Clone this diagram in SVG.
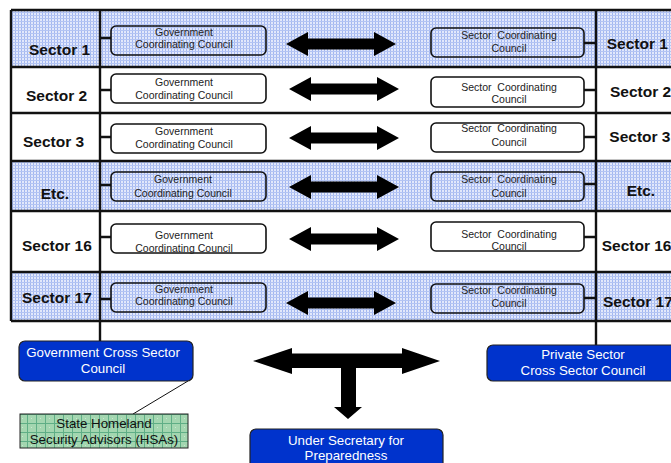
<svg xmlns="http://www.w3.org/2000/svg" width="671" height="463" viewBox="0 0 671 463">
<defs>
<pattern id="blue" width="3" height="3" patternUnits="userSpaceOnUse">
<rect width="3" height="3" fill="#e2e8fb"/>
<rect width="1" height="3" fill="#a3b7f0"/>
<rect width="3" height="1" fill="#b3c4f3"/>
</pattern>
<pattern id="green" width="9" height="9" patternUnits="userSpaceOnUse">
<rect width="9" height="9" fill="#a3d6b0"/>
<rect width="1" height="9" fill="#5fae86"/>
<rect width="9" height="1" fill="#5fae86"/>
<rect x="4" y="4" width="1" height="1" fill="#c8e8cf"/>
</pattern>
<style>
text{font-family:"Liberation Sans",Arial,sans-serif}
.lbl{font-size:15.5px;font-weight:bold;fill:#111}
.small{font-size:10.5px;fill:#222;text-anchor:middle}
.big{font-size:13.3px;fill:#fff;text-anchor:middle}
.dark{font-size:13.3px;fill:#111;text-anchor:middle}
.box{fill:#fff;stroke:#111;stroke-width:1.6}
.bbox{fill:url(#blue);stroke:#111;stroke-width:1.6}
.blue{fill:#0033cc;stroke:#222;stroke-width:1.2}
.grid{stroke:#111;stroke-width:2.4;fill:none}
.con{stroke:#111;stroke-width:2.4;fill:none}
.thin{stroke:#111;stroke-width:1;fill:none}
.arr{fill:#000}
</style>
</defs>
<rect width="671" height="463" fill="#fff"/>
<g id="table">
<rect x="11" y="10" width="670" height="57" fill="url(#blue)"/>
<rect x="11" y="161" width="670" height="50" fill="url(#blue)"/>
<rect x="11" y="272" width="670" height="49" fill="url(#blue)"/>
<path class="grid" d="M11,10 H681 M11,67 H681 M11,113 H681 M11,161 H681 M11,211 H681 M11,272 H681 M11,321 H681 M11,10 V321"/>
</g>
<g id="connectors">
<path class="con" d="M100,10 V341 M596,10 V345"/>
<path class="con" d="M100,38 H111 M100,90 H111 M100,137 H111 M100,185 H111 M100,237 H111 M100,299 H111"/>
<path class="con" d="M584,43 H596 M584,90 H596 M584,137 H596 M584,184 H596 M584,237 H596 M584,298 H596"/>
<path class="thin" d="M188,381 L133,414"/>
<path class="arr" d="M286,44 L308,32 L308,38.5 L374,38.5 L374,32 L396,44 L374,56 L374,49.5 L308,49.5 L308,56 Z"/>
<path class="arr" d="M289,89 L311,77 L311,83.5 L377,83.5 L377,77 L399,89 L377,101 L377,94.5 L311,94.5 L311,101 Z"/>
<path class="arr" d="M289,138 L311,126 L311,132.5 L377,132.5 L377,126 L399,138 L377,150 L377,143.5 L311,143.5 L311,150 Z"/>
<path class="arr" d="M289,187 L311,175 L311,181.5 L377,181.5 L377,175 L399,187 L377,199 L377,192.5 L311,192.5 L311,199 Z"/>
<path class="arr" d="M289,239 L311,227 L311,233.5 L377,233.5 L377,227 L399,239 L377,251 L377,244.5 L311,244.5 L311,251 Z"/>
<path class="arr" d="M286,303 L308,291 L308,297.5 L374,297.5 L374,291 L396,303 L374,315 L374,308.5 L308,308.5 L308,315 Z"/>
<path class="arr" d="M253,361 L292,348 L292,353.5 L402,353.5 L402,348 L440,361 L402,374 L402,368 L356,368 L356,407 L362,407 L348,419 L334,407 L341,407 L341,368 L292,368 L292,374 Z"/>
</g>
<g id="row1">
<text class="lbl" x="29" y="55">Sector 1</text>
<rect class="bbox" x="111" y="26" width="155" height="29" rx="5"/>
<text class="small" x="184" y="36">Government</text>
<text class="small" x="184" y="48">Coordinating Council</text>
<rect class="bbox" x="431" y="28" width="153" height="29" rx="5"/>
<text class="small" x="509" y="39.3" xml:space="preserve">Sector  Coordinating</text>
<text class="small" x="509" y="52.3">Council</text>
<text class="lbl" x="606.7" y="49">Sector 1</text>
</g>
<g id="row2">
<text class="lbl" x="26" y="101">Sector 2</text>
<rect class="box" x="111" y="74" width="155" height="29" rx="5"/>
<text class="small" x="184" y="86">Government</text>
<text class="small" x="184" y="99">Coordinating Council</text>
<rect class="box" x="431" y="77" width="153" height="30" rx="5"/>
<text class="small" x="509" y="90.7" xml:space="preserve">Sector  Coordinating</text>
<text class="small" x="509" y="102.7">Council</text>
<text class="lbl" x="610" y="96.7">Sector 2</text>
</g>
<g id="row3">
<text class="lbl" x="23" y="146.7">Sector 3</text>
<rect class="box" x="111" y="124" width="155" height="29" rx="5"/>
<text class="small" x="184" y="135">Government</text>
<text class="small" x="184" y="147.7">Coordinating Council</text>
<rect class="box" x="431" y="123" width="153" height="29" rx="5"/>
<text class="small" x="509" y="132.3" xml:space="preserve">Sector  Coordinating</text>
<text class="small" x="509" y="145.7">Council</text>
<text class="lbl" x="609.3" y="141.7">Sector 3</text>
</g>
<g id="row4">
<text class="lbl" x="40.7" y="199">Etc.</text>
<rect class="bbox" x="111" y="172" width="155" height="29" rx="5"/>
<text class="small" x="183" y="183.3">Government</text>
<text class="small" x="183" y="196.7">Coordinating Council</text>
<rect class="bbox" x="431" y="172" width="153" height="29" rx="5"/>
<text class="small" x="509" y="183.3" xml:space="preserve">Sector  Coordinating</text>
<text class="small" x="509" y="196.7">Council</text>
<text class="lbl" x="626.7" y="195.7">Etc.</text>
</g>
<g id="row5">
<text class="lbl" x="22" y="251">Sector 16</text>
<rect class="box" x="111" y="224" width="155" height="29" rx="5"/>
<text class="small" x="184" y="239.3">Government</text>
<text class="small" x="184" y="251.7">Coordinating Council</text>
<rect class="box" x="431" y="222" width="153" height="29" rx="5"/>
<text class="small" x="509" y="237.7" xml:space="preserve">Sector  Coordinating</text>
<text class="small" x="509" y="250">Council</text>
<text class="lbl" x="601.7" y="250.7">Sector 16</text>
</g>
<g id="row6">
<text class="lbl" x="22" y="302.7">Sector 17</text>
<rect class="bbox" x="111" y="283" width="155" height="29" rx="5"/>
<text class="small" x="184" y="292.7">Government</text>
<text class="small" x="184" y="305">Coordinating Council</text>
<rect class="bbox" x="431" y="284" width="153" height="29" rx="5"/>
<text class="small" x="509" y="294.3" xml:space="preserve">Sector  Coordinating</text>
<text class="small" x="509" y="307.3">Council</text>
<text class="lbl" x="603" y="306.7">Sector 17</text>
</g>
<g id="gov-cross">
<rect class="blue" x="19" y="341" width="174" height="40" rx="6"/>
<text class="big" x="103" y="357.3">Government Cross Sector</text>
<text class="big" x="103" y="372.7">Council</text>
</g>
<g id="private-cross">
<rect class="blue" x="487" y="345" width="200" height="36" rx="6"/>
<text class="big" x="583" y="359.3">Private Sector</text>
<text class="big" x="583" y="375">Cross Sector Council</text>
</g>
<g id="under-secretary">
<rect class="blue" x="250" y="429" width="193" height="45" rx="6"/>
<text class="big" x="346" y="445">Under Secretary for</text>
<text class="big" x="346" y="460">Preparedness</text>
</g>
<g id="hsa">
<rect x="20" y="414" width="168" height="34" fill="url(#green)" stroke="#222" stroke-width="1"/>
<text class="dark" x="104" y="428.3">State Homeland</text>
<text class="dark" x="104" y="444.3">Security Advisors (HSAs)</text>
</g>
</svg>
